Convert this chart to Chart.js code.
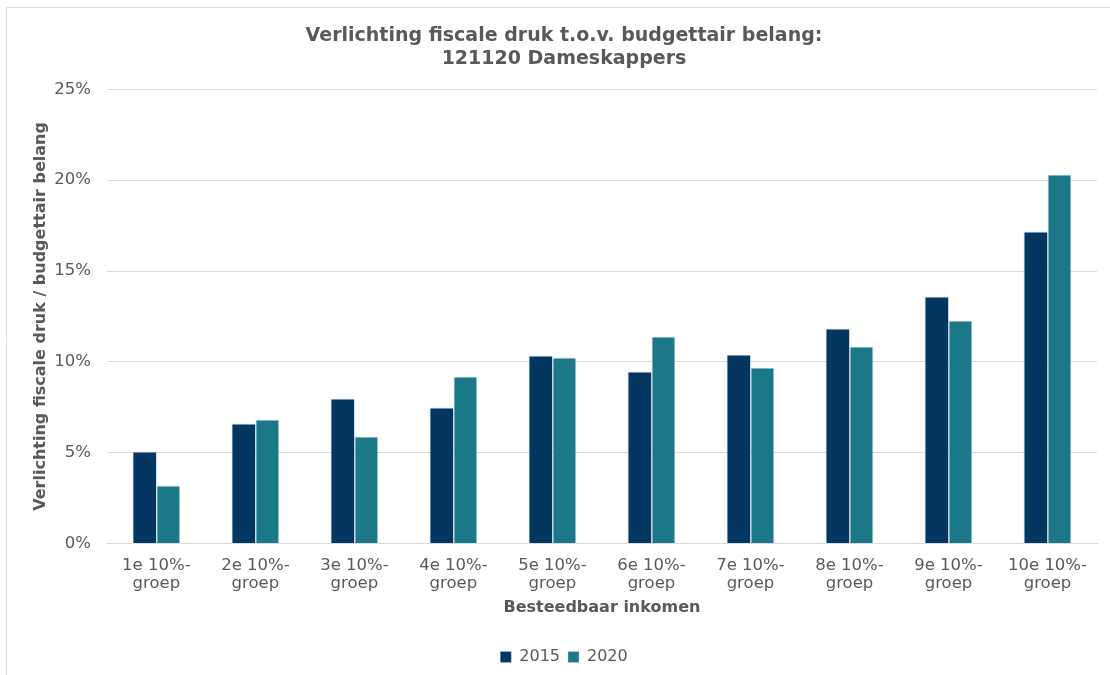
<!DOCTYPE html>
<html>
<head>
<meta charset="utf-8">
<script src="https://cdn.jsdelivr.net/npm/chart.js@4/dist/chart.umd.min.js"></script>
<style>
html,body{margin:0;padding:0;background:#fff;overflow:hidden;}
#wrap{position:absolute;left:0;top:0;width:1110px;height:675px;}
</style>
</head>
<body>
<div id="wrap"><canvas id="c" width="1110" height="675"></canvas></div>
<script>
const categories = [
  ["1e 10%-","groep"],["2e 10%-","groep"],["3e 10%-","groep"],["4e 10%-","groep"],["5e 10%-","groep"],
  ["6e 10%-","groep"],["7e 10%-","groep"],["8e 10%-","groep"],["9e 10%-","groep"],["10e 10%-","groep"]
];
const values2015 = [5.07, 6.61, 7.98, 7.49, 10.35, 9.47, 10.40, 11.84, 13.60, 17.18];
const values2020 = [3.19, 6.83, 5.89, 9.20, 10.24, 11.40, 9.69, 10.85, 12.28, 20.32];
const seriesNames = ["2015", "2020"];
const titleLines = ["Verlichting fiscale druk t.o.v. budgettair belang:", "121120 Dameskappers"];
const xTitle = "Besteedbaar inkomen";
const yTitle = "Verlichting fiscale druk / budgettair belang";

const FONT = "'DejaVu Sans', Verdana, sans-serif";
const GREY = "#595959";
const EDGE = 'rgba(190,212,225,0.6)';

const borderPlugin = {
  id: 'outerBorder',
  beforeDraw(chart) {
    const ctx = chart.ctx;
    ctx.save();
    ctx.strokeStyle = '#d9d9d9';
    ctx.lineWidth = 1;
    ctx.beginPath();
    ctx.moveTo(6.5, 675);
    ctx.lineTo(6.5, 7.5);
    ctx.lineTo(1110, 7.5);
    ctx.stroke();
    ctx.restore();
  }
};

new Chart(document.getElementById('c'), {
  type: 'bar',
  data: {
    labels: categories,
    datasets: [
      { label: seriesNames[0], data: values2015, backgroundColor: '#033761', borderColor: EDGE,
        borderWidth: { top: 1, left: 1, right: 0, bottom: 0 } },
      { label: seriesNames[1], data: values2020, backgroundColor: '#1b7889', borderColor: EDGE,
        borderWidth: { top: 1, left: 1, right: 1, bottom: 0 } }
    ]
  },
  options: {
    responsive: false,
    animation: false,
    devicePixelRatio: 1,
    layout: { padding: { left: 31, right: 13, top: 17, bottom: 0 } },
    datasets: { bar: { barPercentage: 1.0, categoryPercentage: 0.485 } },
    plugins: {
      title: {
        display: true,
        text: titleLines,
        color: GREY,
        font: { family: FONT, size: 19, weight: 'bold', lineHeight: 1.22 },
        padding: { top: 7, bottom: 19 }
      },
      legend: {
        display: true,
        position: 'bottom',
        labels: {
          color: GREY,
          font: { family: FONT, size: 16 },
          boxWidth: 11, boxHeight: 11, padding: 8
        }
      },
      tooltip: { enabled: false }
    },
    scales: {
      x: {
        grid: { display: false, drawTicks: false },
        border: { display: true, color: '#d9d9d9' },
        ticks: { color: GREY, font: { family: FONT, size: 16.5, lineHeight: 1.1 }, padding: 13, maxRotation: 0, autoSkip: false },
        title: { display: true, text: xTitle, color: GREY, font: { family: FONT, size: 16, weight: 'bold' }, padding: { top: -8, bottom: 24 } }
      },
      y: {
        min: 0, max: 25,
        grid: { color: '#d9d9d9', drawTicks: false },
        border: { display: false },
        ticks: { stepSize: 5, color: GREY, font: { family: FONT, size: 16.5 }, padding: 16, callback: v => v + '%' },
        title: { display: true, text: yTitle, color: GREY, font: { family: FONT, size: 16, weight: 'bold' }, padding: { top: 0, bottom: -12 } }
      }
    }
  },
  plugins: [borderPlugin]
});
</script>
</body>
</html>
